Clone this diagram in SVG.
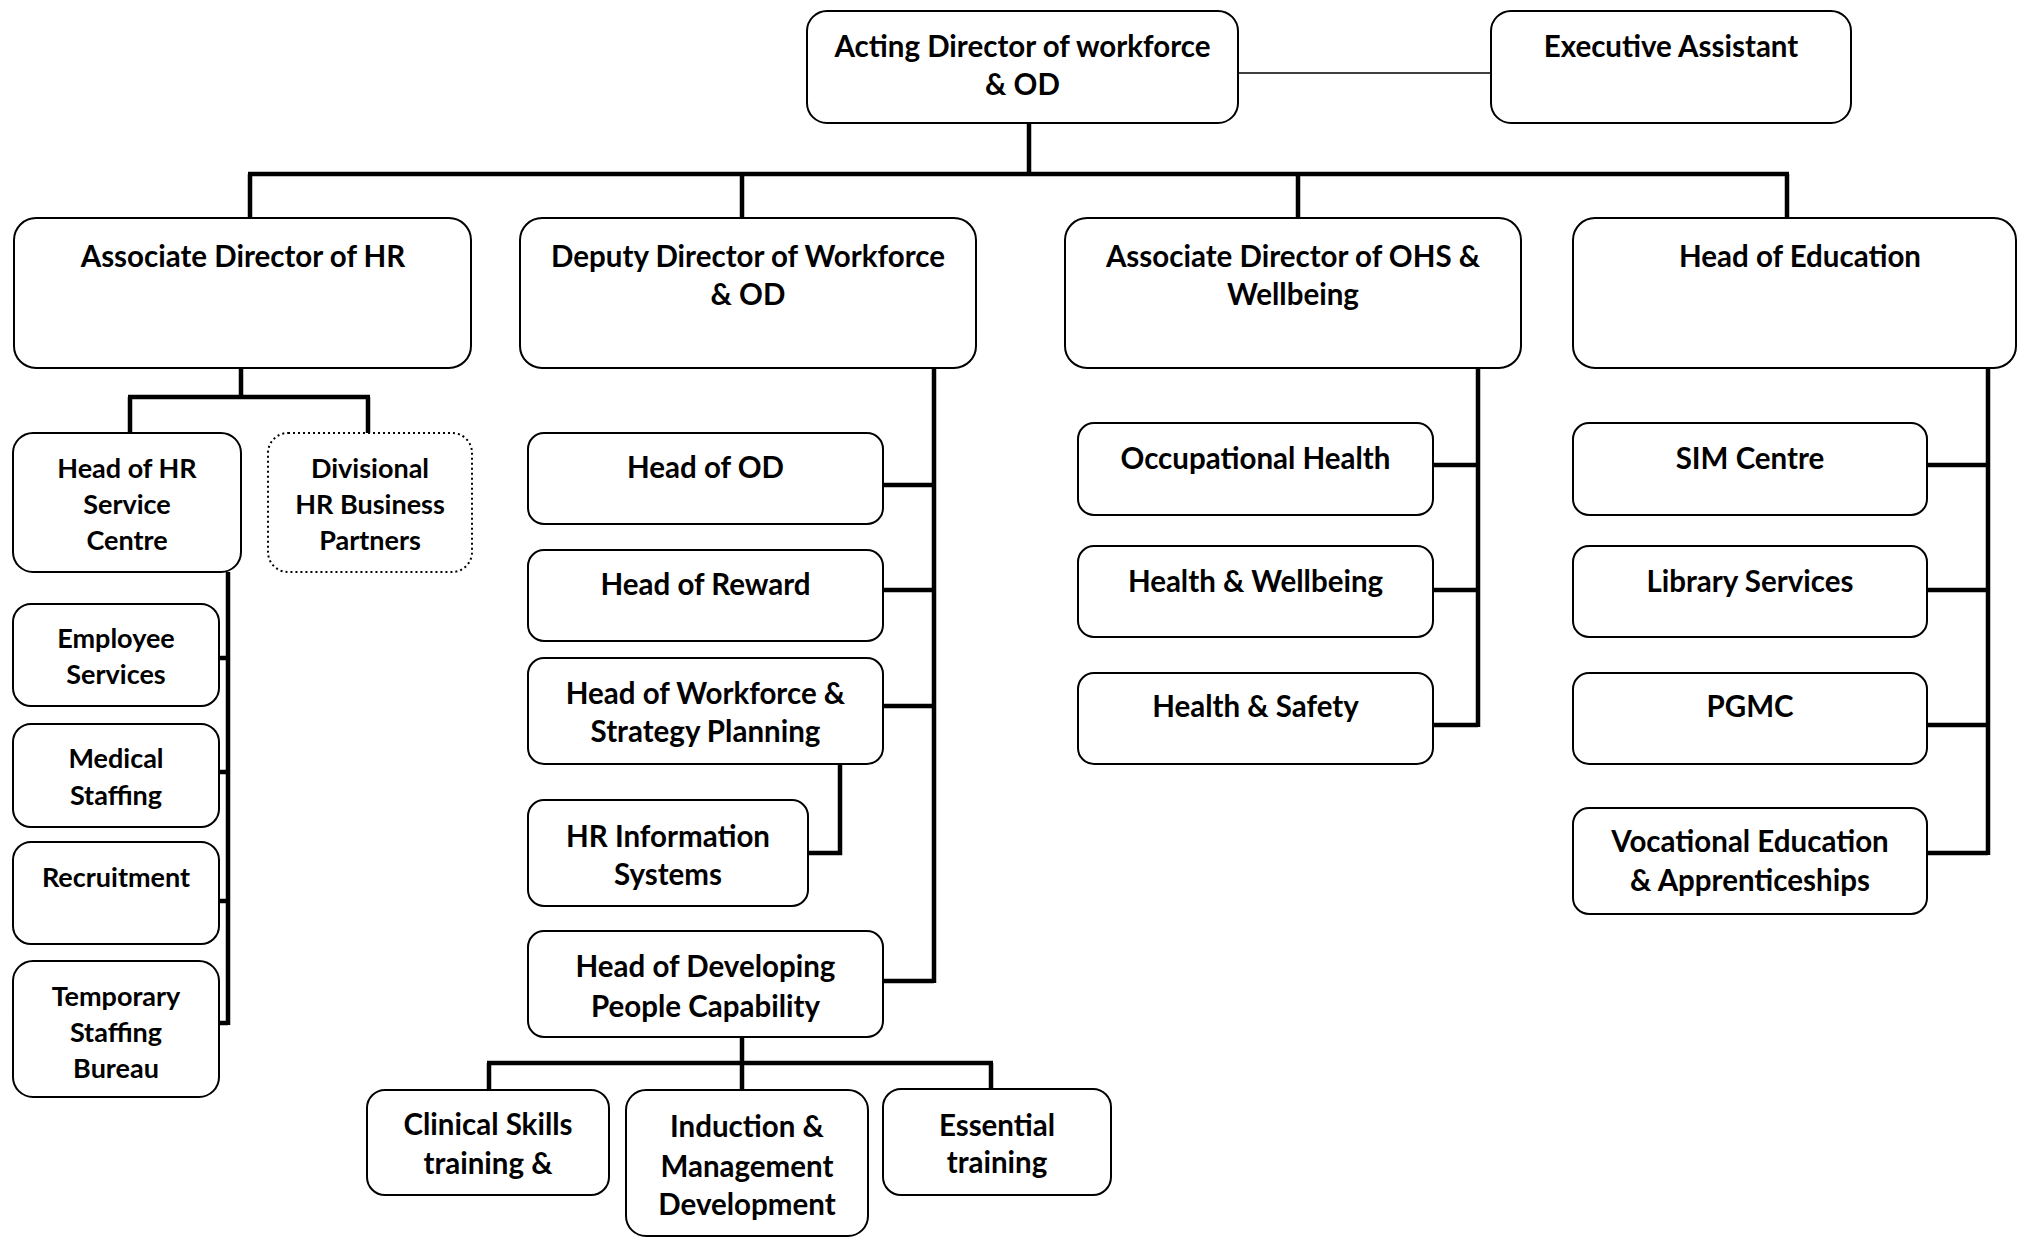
<svg xmlns="http://www.w3.org/2000/svg" width="2017" height="1238" viewBox="0 0 2017 1238">
<style>
.b{fill:#fff;stroke:#000;stroke-width:2}
.dot{stroke-dasharray:2 3}
.c{stroke:#000;stroke-width:4.5;fill:none}
.thin{stroke:#000;stroke-width:1.6;fill:none}
text{font-family:Lato,"Open Sans",sans-serif;font-weight:700;font-size:29.5px;text-anchor:middle;fill:#000}
.s text{font-size:27px}
</style>
<rect width="2017" height="1238" fill="#fff"/>
<g id="connectors">
<path class="thin" d="M1238 73H1491"/>
<path class="c" d="M1029 123V174M248 174H1789M250 174V218M742 174V218M1298 174V218M1787 174V218"/>
<path class="c" d="M241 368V397M128 397H370M130 397V433M368 397V433"/>
<path class="c" d="M228 572V1025M219 658H228M219 772H228M219 901H228M219 1023H228"/>
<path class="c" d="M934 368V983M883 485H934M883 590H934M883 706H934M883 981H934"/>
<path class="c" d="M840 764V853H808"/>
<path class="c" d="M742 1037V1063M487 1063H993M489 1063V1090M742 1063V1090M991 1063V1090"/>
<path class="c" d="M1478 368V727M1433 465H1478M1433 590H1478M1433 725H1478"/>
<path class="c" d="M1988 368V855M1927 465H1988M1927 590H1988M1927 725H1988M1927 853H1988"/>
</g>
<g id="acting"><rect class="b" x="807" y="11" width="431" height="112" rx="20"/><text x="1022.5" y="57">Acting Director of workforce</text><text x="1022.5" y="95">&amp; OD</text></g>
<g id="exec"><rect class="b" x="1491" y="11" width="360" height="112" rx="20"/><text x="1671" y="57">Executive Assistant</text></g>
<g id="adhr"><rect class="b" x="14" y="218" width="457" height="150" rx="22"/><text x="243" y="267">Associate Director of HR</text></g>
<g id="ddw"><rect class="b" x="520" y="218" width="456" height="150" rx="22"/><text x="748" y="267">Deputy Director of Workforce</text><text x="748" y="305">&amp; OD</text></g>
<g id="adohs"><rect class="b" x="1065" y="218" width="456" height="150" rx="22"/><text x="1293" y="267">Associate Director of OHS &amp;</text><text x="1293" y="305">Wellbeing</text></g>
<g id="hoe"><rect class="b" x="1573" y="218" width="443" height="150" rx="22"/><text x="1800" y="267">Head of Education</text></g>
<g id="hrsc" class="s"><rect class="b" x="13" y="433" width="228" height="139" rx="20"/><text x="127" y="478">Head of HR</text><text x="127" y="514">Service</text><text x="127" y="550">Centre</text></g>
<g id="dhrbp" class="s"><rect class="b dot" x="268" y="433" width="204" height="139" rx="20"/><text x="370" y="478">Divisional</text><text x="370" y="514">HR Business</text><text x="370" y="550">Partners</text></g>
<g id="emp" class="s"><rect class="b" x="13" y="604" width="206" height="102" rx="18"/><text x="116" y="648">Employee</text><text x="116" y="684">Services</text></g>
<g id="med" class="s"><rect class="b" x="13" y="724" width="206" height="103" rx="18"/><text x="116" y="768">Medical</text><text x="116" y="805">Staffing</text></g>
<g id="rec" class="s"><rect class="b" x="13" y="842" width="206" height="102" rx="18"/><text x="116" y="887">Recruitment</text></g>
<g id="temp" class="s"><rect class="b" x="13" y="961" width="206" height="136" rx="20"/><text x="116" y="1006">Temporary</text><text x="116" y="1042">Staffing</text><text x="116" y="1078">Bureau</text></g>
<g id="hod"><rect class="b" x="528" y="433" width="355" height="91" rx="16"/><text x="705.5" y="478">Head of OD</text></g>
<g id="hrew"><rect class="b" x="528" y="550" width="355" height="91" rx="16"/><text x="705.5" y="595">Head of Reward</text></g>
<g id="hwsp"><rect class="b" x="528" y="658" width="355" height="106" rx="16"/><text x="705.5" y="704">Head of Workforce &amp;</text><text x="705.5" y="742">Strategy Planning</text></g>
<g id="hris"><rect class="b" x="528" y="800" width="280" height="106" rx="16"/><text x="668" y="847">HR Information</text><text x="668" y="885">Systems</text></g>
<g id="hdpc"><rect class="b" x="528" y="931" width="355" height="106" rx="16"/><text x="705.5" y="977">Head of Developing</text><text x="705.5" y="1017">People Capability</text></g>
<g id="cst"><rect class="b" x="367" y="1090" width="242" height="105" rx="18"/><text x="488" y="1135">Clinical Skills</text><text x="488" y="1174">training &amp;</text></g>
<g id="imd"><rect class="b" x="626" y="1090" width="242" height="146" rx="20"/><text x="747" y="1137">Induction &amp;</text><text x="747" y="1177">Management</text><text x="747" y="1215">Development</text></g>
<g id="ess"><rect class="b" x="883" y="1089" width="228" height="106" rx="18"/><text x="997" y="1136">Essential</text><text x="997" y="1173">training</text></g>
<g id="occ"><rect class="b" x="1078" y="423" width="355" height="92" rx="16"/><text x="1255.5" y="469">Occupational Health</text></g>
<g id="hw"><rect class="b" x="1078" y="546" width="355" height="91" rx="16"/><text x="1255.5" y="592">Health &amp; Wellbeing</text></g>
<g id="hs"><rect class="b" x="1078" y="673" width="355" height="91" rx="16"/><text x="1255.5" y="717">Health &amp; Safety</text></g>
<g id="sim"><rect class="b" x="1573" y="423" width="354" height="92" rx="16"/><text x="1750" y="469">SIM Centre</text></g>
<g id="lib"><rect class="b" x="1573" y="546" width="354" height="91" rx="16"/><text x="1750" y="592">Library Services</text></g>
<g id="pgmc"><rect class="b" x="1573" y="673" width="354" height="91" rx="16"/><text x="1750" y="717">PGMC</text></g>
<g id="voc"><rect class="b" x="1573" y="808" width="354" height="106" rx="16"/><text x="1750" y="852">Vocational Education</text><text x="1750" y="891">&amp; Apprenticeships</text></g>
</svg>
